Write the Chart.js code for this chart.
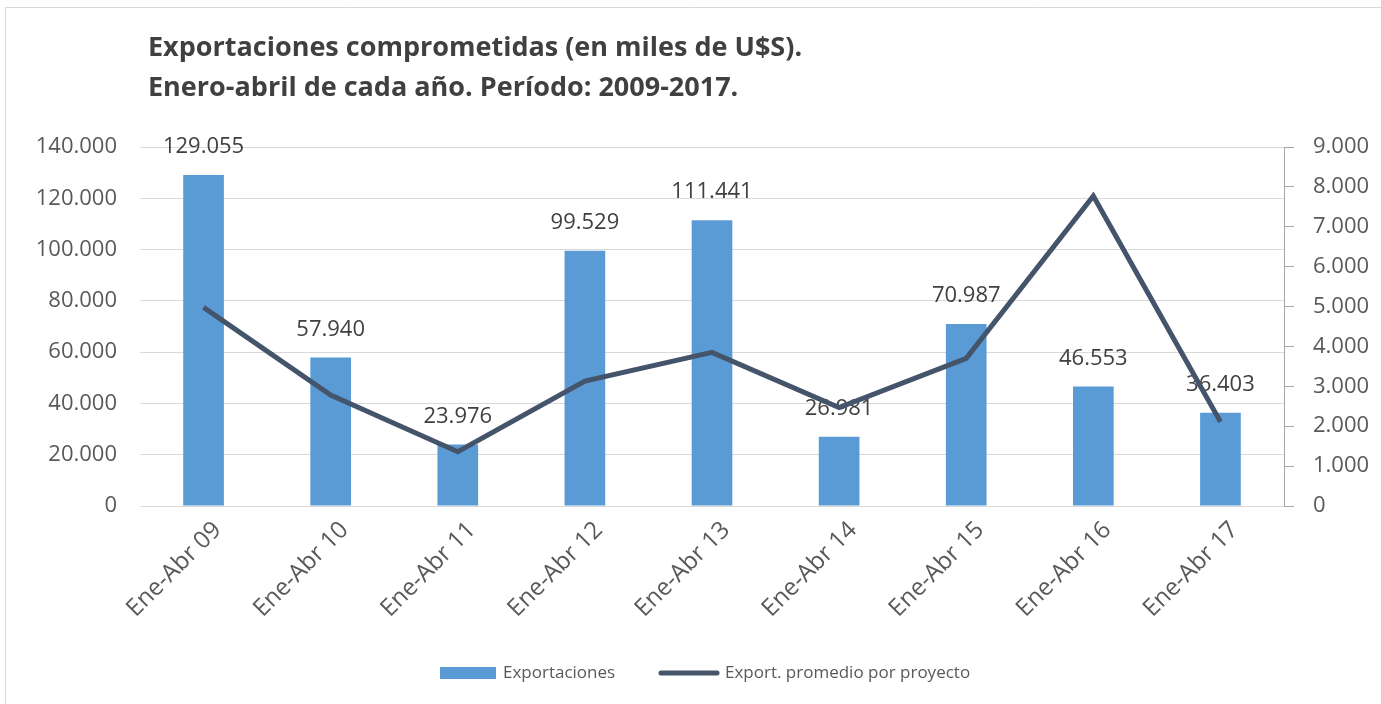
<!DOCTYPE html>
<html>
<head>
<meta charset="utf-8">
<script src="https://cdn.jsdelivr.net/npm/chart.js@4.4.1/dist/chart.umd.min.js"></script>
<style>
  html, body { margin: 0; padding: 0; background: #fff; }
  #grafico { display: block; }
</style>
</head>
<body>
<canvas id="grafico" width="1381" height="704" style="width:1381px;height:704px"></canvas>
<script>
// Datos del gráfico
const periodos = ["Ene-Abr 09", "Ene-Abr 10", "Ene-Abr 11", "Ene-Abr 12", "Ene-Abr 13", "Ene-Abr 14", "Ene-Abr 15", "Ene-Abr 16", "Ene-Abr 17"];
const exportaciones = [129055, 57940, 23976, 99529, 111441, 26981, 70987, 46553, 36403];
const promedioProyecto = [4980, 2780, 1360, 3130, 3850, 2470, 3700, 7770, 2110];
const titulo = ["Exportaciones comprometidas (en miles de U$S).", "Enero-abril de cada año. Período: 2009-2017."];

const azul = "#5b9bd5";
const pizarra = "#44546a";
const gris = "#595959";

// Formato con punto de miles
const formatear = (n) => Math.round(n).toString().replace(/\B(?=(\d{3})+(?!\d))/g, ".");

// Título, borde, etiquetas y leyenda dibujados a mano
const extras = {
  id: "extras",
  beforeDraw(chart) {
    const c = chart.ctx;
    c.save();
    c.strokeStyle = "#d9d9d9";
    c.lineWidth = 1;
    c.beginPath();
    c.moveTo(5.5, 704);
    c.lineTo(5.5, 7.5);
    c.lineTo(1381, 7.5);
    c.stroke();
    c.restore();
  },
  afterDatasetDraw(chart, args) {
    if (args.index !== 0) return;
    const c = chart.ctx;
    c.save();
    c.font = '22px "Open Sans"';
    c.fillStyle = "#404040";
    c.textAlign = "center";
    c.textBaseline = "middle";
    args.meta.data.forEach((bar, i) => {
      c.fillText(formatear(exportaciones[i]), bar.x, bar.y - 28);
    });
    c.restore();
  },
  afterDraw(chart) {
    const c = chart.ctx;
    c.save();
    c.font = 'bold 27px "Open Sans"';
    c.fillStyle = "#404040";
    c.textBaseline = "middle";
    c.fillText(titulo[0], 148, 48);
    c.fillText(titulo[1], 148, 88);

    // Leyenda
    const ds = chart.data.datasets;
    const y = 673;
    c.font = '17px "Open Sans"';
    c.fillStyle = ds[0].backgroundColor;
    c.fillRect(440, y - 6, 56, 12);
    c.fillStyle = gris;
    c.fillText(ds[0].label, 503, y);
    c.strokeStyle = ds[1].borderColor;
    c.lineWidth = 5;
    c.lineCap = "round";
    c.beginPath();
    c.moveTo(661, y);
    c.lineTo(717, y);
    c.stroke();
    c.fillText(ds[1].label, 725, y);
    c.restore();
  }
};

const ctx = document.getElementById("grafico").getContext("2d");

const grafico = new Chart(ctx, {
  type: "bar",
  data: {
    labels: periodos,
    datasets: [
      {
        label: "Exportaciones",
        data: exportaciones,
        backgroundColor: azul,
        yAxisID: "y",
        categoryPercentage: 1,
        barPercentage: 0.32,
        order: 1,
      },
      {
        type: "line",
        label: "Export. promedio por proyecto",
        data: promedioProyecto,
        borderColor: pizarra,
        borderWidth: 5,
        pointRadius: 0,
        tension: 0,
        yAxisID: "y1",
        order: 0,
      },
    ],
  },
  options: {
    responsive: false,
    animation: false,
    layout: { padding: { top: 147, bottom: 58, left: 0, right: 0 } },
    plugins: {
      legend: { display: false },
      tooltip: { enabled: false },
    },
    scales: {
      x: {
        grid: { display: false },
        border: { display: false },
        ticks: {
          maxRotation: 45,
          minRotation: 45,
          color: gris,
          padding: 2,
          labelOffset: 14,
          font: { family: "Open Sans", size: 24 },
        },
        afterFit: (s) => { s.height = 140; },
      },
      y: {
        position: "left",
        min: 0,
        max: 140000,
        ticks: {
          stepSize: 20000,
          color: gris,
          padding: 23,
          font: { family: "Open Sans", size: 22 },
          callback: (v) => formatear(v),
        },
        grid: { color: "#d9d9d9", drawTicks: false },
        border: { display: false },
        afterFit: (s) => { s.width = 140; },
      },
      y1: {
        position: "right",
        min: 0,
        max: 9000,
        ticks: {
          stepSize: 1000,
          color: gris,
          padding: 19,
          font: { family: "Open Sans", size: 22 },
          callback: (v) => formatear(v),
        },
        grid: { drawOnChartArea: false, drawTicks: true, tickLength: 10, color: "#a6a6a6" },
        border: { display: true, color: "#a6a6a6" },
        afterFit: (s) => { s.width = 97; },
      },
    },
  },
  plugins: [extras],
});
</script>
</body>
</html>
